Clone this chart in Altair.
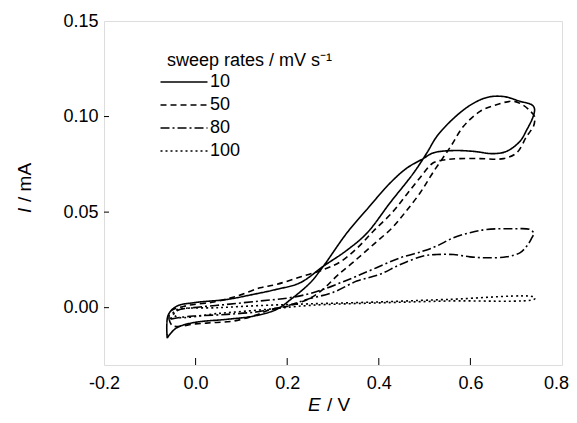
import altair as alt
import pandas as pd

series_labels = ["10", "50", "80", "100"]

s10_E = [-0.062, -0.059, -0.041, -0.004, 0.068, 0.127, 0.177, 0.206, 0.25, 0.279, 0.33, 0.374, 0.425, 0.461, 0.497,
         0.519, 0.563, 0.606, 0.65, 0.679, 0.708, 0.723, 0.737, 0.74, 0.735, 0.708, 0.672, 0.636, 0.6, 0.563, 0.527,
         0.505, 0.476, 0.425, 0.374, 0.33, 0.279, 0.228, 0.177, 0.127, 0.068, -0.004, -0.041, -0.06, -0.062]
s10_I = [-0.016, -0.0148, -0.0105, -0.0078, -0.0061, -0.0044, -0.0009, 0.004, 0.013, 0.0217, 0.039, 0.0514, 0.0653,
         0.073, 0.078, 0.081, 0.0822, 0.0818, 0.0806, 0.0818, 0.087, 0.093, 0.1, 0.104, 0.106, 0.108, 0.1105, 0.110,
         0.106, 0.099, 0.0897, 0.081, 0.0705, 0.055, 0.039, 0.030, 0.0217, 0.013, 0.0096, 0.007, 0.0043, 0.0026,
         0.0008, -0.004, -0.016]

s50_E = [-0.058, -0.05, 0.0, 0.04, 0.083, 0.13, 0.163, 0.206, 0.25, 0.28, 0.308, 0.345, 0.388, 0.43, 0.458, 0.49,
         0.519, 0.556, 0.585, 0.621, 0.657, 0.694, 0.715, 0.73, 0.74, 0.738, 0.73, 0.723, 0.701, 0.672, 0.621, 0.577,
         0.548, 0.519, 0.49, 0.46, 0.43, 0.388, 0.352, 0.316, 0.28, 0.228, 0.177, 0.141, 0.09, 0.04, -0.02, -0.055,
         -0.058]
s50_I = [-0.006, -0.0095, -0.0085, -0.0078, -0.007, -0.004, -0.001, 0.001, 0.005, 0.01, 0.0165, 0.024, 0.033, 0.042,
         0.05, 0.06, 0.071, 0.084, 0.0949, 0.1027, 0.1062, 0.108, 0.106, 0.103, 0.1, 0.095, 0.092, 0.0897, 0.081,
         0.078, 0.078, 0.078, 0.0775, 0.0758, 0.068, 0.059, 0.05, 0.04, 0.031, 0.024, 0.02, 0.016, 0.0122, 0.0104,
         0.006, 0.003, 0.001, -0.002, -0.006]

s80_E = [-0.055, -0.03, -0.004, 0.068, 0.14, 0.2, 0.243, 0.3, 0.352, 0.402, 0.447, 0.497, 0.526, 0.563, 0.599, 0.635,
         0.679, 0.708, 0.723, 0.733, 0.738, 0.73, 0.693, 0.635, 0.599, 0.563, 0.526, 0.497, 0.447, 0.395, 0.352, 0.316,
         0.279, 0.243, 0.2, 0.141, 0.068, -0.004, -0.04, -0.055]
s80_I = [-0.006, -0.005, -0.0044, -0.0035, -0.002, 0.001, 0.0043, 0.008, 0.0139, 0.0174, 0.0226, 0.027, 0.0278,
         0.0278, 0.0266, 0.0261, 0.0266, 0.0287, 0.0322, 0.036, 0.039, 0.0409, 0.0413, 0.0409, 0.0392, 0.0366, 0.0322,
         0.0296, 0.0261, 0.0209, 0.0165, 0.013, 0.0096, 0.007, 0.005, 0.0035, 0.0017, 0.0, -0.0015, -0.006]

s100_E = [-0.05, -0.04, 0.05, 0.15, 0.25, 0.4, 0.55, 0.74, 0.74, 0.55, 0.4, 0.25, 0.15, 0.05, -0.04, -0.05]
s100_I = [-0.003, -0.001, 0.0, 0.0012, 0.002, 0.003, 0.0043, 0.0055, 0.0045, 0.0035, 0.0025, 0.0012, -0.001, -0.003,
          -0.005, -0.003]

x_ticks = [0.0, 0.2, 0.4, 0.6]
y_ticks = [0.0, 0.05, 0.10]
x_labels = [-0.2, 0.0, 0.2, 0.4, 0.6, 0.8]
y_labels = [0.0, 0.05, 0.10, 0.15]

rows = []
for lab, E, I in zip(series_labels, [s10_E, s50_E, s80_E, s100_E], [s10_I, s50_I, s80_I, s100_I]):
    for k, (e, i) in enumerate(zip(E, I)):
        rows.append({"rate": lab, "E": e, "I": i, "k": k})
df = pd.DataFrame(rows)

W, H = 458, 344
FONT = "Liberation Sans"
xs = alt.Scale(domain=[-0.2, 0.8], nice=False, zero=False)
ys = alt.Scale(domain=[-0.03, 0.15], nice=False, zero=False)

lines = alt.Chart(df).mark_line(color="black", strokeWidth=1.6, interpolate="catmull-rom").encode(
    x=alt.X("E:Q", scale=xs, axis=alt.Axis(
        values=x_labels, labelExpr="replace(format(datum.value, '.1f'), '\u2212', '-')",
        labelOffset={"condition": {"test": "datum.value > 0.75", "value": -6}, "value": 0},
        title=None, domain=False, ticks=False, tickSize=0, grid=False, labelFontSize=18,
        labelFont=FONT, labelColor="black", labelPadding=9, labelFlush=False, labelOverlap=False)),
    y=alt.Y("I:Q", scale=ys, axis=alt.Axis(
        values=y_labels, format=".2f", title=None, domain=False, ticks=False, tickSize=0, grid=False,
        labelFontSize=18, labelFont=FONT, labelColor="black", labelPadding=6, labelFlush=False,
        labelOverlap=False)),
    strokeDash=alt.StrokeDash("rate:N", scale=alt.Scale(domain=series_labels,
                                                         range=[[1, 0], [6, 4], [9, 3, 2, 3], [2, 3]]),
                              legend=alt.Legend(
                                  title="sweep rates / mV s\u207b\u00b9", orient="none", legendX=63, legendY=31,
                                  padding=0, symbolType="M-4,0H4", symbolSize=138, symbolStrokeWidth=1.6,
                                  symbolStrokeColor="black", labelFontSize=18, titleFontSize=18,
                                  titleFontWeight="normal", titleFont=FONT, labelFont=FONT, titleColor="black",
                                  labelColor="black", titlePadding=3, rowPadding=5, labelOffset=17,
                                  symbolOffset=8, titleLimit=400)),
    order="k:Q",
)

xt = alt.Chart(pd.DataFrame({"x": x_ticks})).mark_rule(color="black", strokeWidth=1).encode(
    x=alt.X("x:Q", scale=xs), y=alt.value(H - 7), y2=alt.value(H))
yt = alt.Chart(pd.DataFrame({"y": y_ticks})).mark_rule(color="black", strokeWidth=1).encode(
    y=alt.Y("y:Q", scale=ys), x=alt.value(0), x2=alt.value(5))

ex = alt.Chart(pd.DataFrame({"t": ["E"]})).mark_text(
    font=FONT, fontSize=19, fontStyle="italic", align="left", baseline="alphabetic", color="black").encode(
    text="t:N", x=alt.value(204), y=alt.value(H + 46))
ev = alt.Chart(pd.DataFrame({"t": ["/ V"]})).mark_text(
    font=FONT, fontSize=19, align="left", baseline="alphabetic", color="black").encode(
    text="t:N", x=alt.value(223), y=alt.value(H + 46))
yi = alt.Chart(pd.DataFrame({"t": ["I"]})).mark_text(
    font=FONT, fontSize=19, fontStyle="italic", align="left", baseline="alphabetic", angle=270,
    color="black").encode(text="t:N", x=alt.value(-73), y=alt.value(192))
ym = alt.Chart(pd.DataFrame({"t": ["/ mA"]})).mark_text(
    font=FONT, fontSize=19, align="left", baseline="alphabetic", angle=270, color="black").encode(
    text="t:N", x=alt.value(-73), y=alt.value(181))

chart = alt.layer(lines, xt, yt, ex, ev, yi, ym).properties(
    width=W, height=H,
    autosize=alt.AutoSizeParams(type="none"),
    padding={"left": 96, "top": 13, "right": 7, "bottom": 50},
).configure_view(stroke="black", strokeWidth=1).configure(background="white")

chart.save("out.html", embed_options={"renderer": "svg", "actions": False})
